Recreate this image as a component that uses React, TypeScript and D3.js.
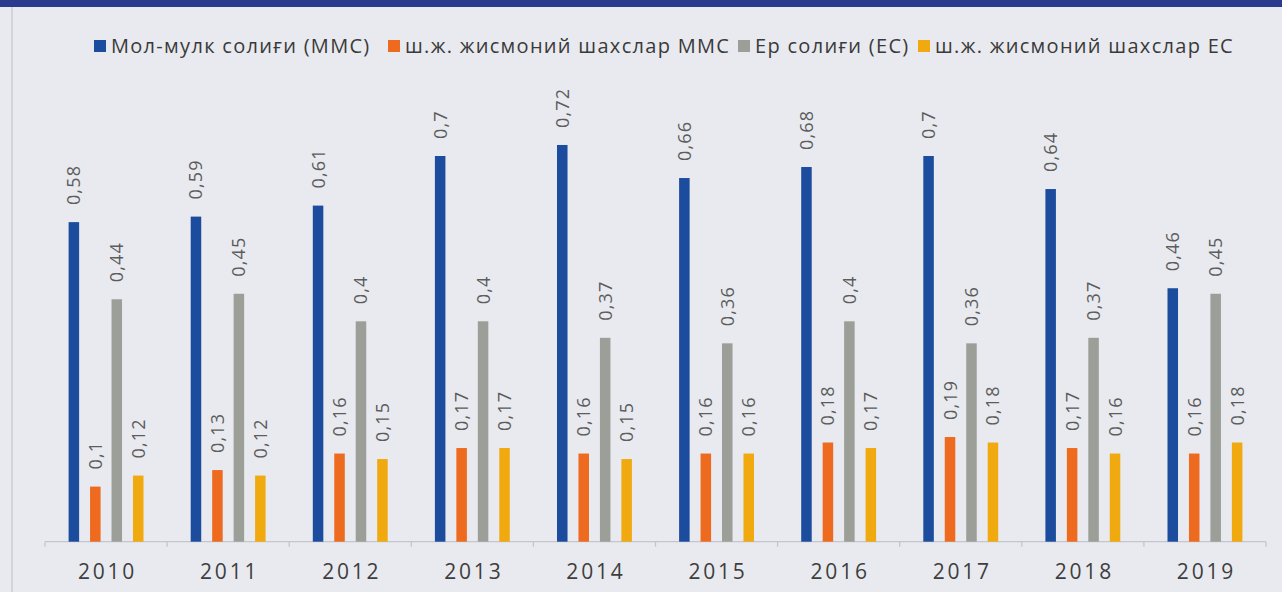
import React, { useEffect, useRef } from 'react';
import * as d3 from 'd3';

const years = ['2010', '2011', '2012', '2013', '2014', '2015', '2016', '2017', '2018', '2019'];
const mmsTotal = [0.58, 0.59, 0.61, 0.7, 0.72, 0.66, 0.68, 0.7, 0.64, 0.46];
const mmsPersons = [0.1, 0.13, 0.16, 0.17, 0.16, 0.16, 0.18, 0.19, 0.17, 0.16];
const esTotal = [0.44, 0.45, 0.4, 0.4, 0.37, 0.36, 0.4, 0.36, 0.37, 0.45];
const esPersons = [0.12, 0.12, 0.15, 0.17, 0.15, 0.16, 0.17, 0.18, 0.16, 0.18];

const seriesNames = [
  'Мол-мулк солиғи (ММС)',
  'ш.ж. жисмоний шахслар ММС',
  'Ер солиғи (ЕС)',
  'ш.ж. жисмоний шахслар ЕС',
];
const seriesColors = ['#1b4c9e', '#ee6a1e', '#9c9e98', '#f0aa10'];
const seriesValues = [mmsTotal, mmsPersons, esTotal, esPersons];

const W = 1282;
const H = 592;
const font = '"Open Sans", "DejaVu Sans", sans-serif';

const App = () => {
  const ref = useRef<SVGSVGElement>(null);

  useEffect(() => {
    const svg = d3.select(ref.current);
    svg.selectAll('*').remove();

    // page background and top banner
    svg.append('rect').attr('width', W).attr('height', H).attr('fill', '#e8eaef');
    svg.append('rect').attr('width', W).attr('height', 7).attr('fill', '#2a3a8c');
    svg.append('line')
      .attr('x1', 12).attr('x2', 12).attr('y1', 7).attr('y2', H)
      .attr('stroke', '#d2d4da').attr('stroke-width', 2);

    const baseY = 541.7;
    const x = d3.scaleBand().domain(years).range([45, 1266]).padding(0);
    const inner = d3.scaleBand()
      .domain(d3.range(4).map(String))
      .range([0, x.bandwidth()])
      .paddingInner(0.51)
      .paddingOuter(1.1);
    const y = d3.scaleLinear().domain([0, 1]).range([baseY, baseY - 551]);

    // axis
    const axis = svg.append('g').attr('transform', `translate(0,${baseY})`);
    axis.append('line')
      .attr('x1', x.range()[0]).attr('x2', x.range()[1])
      .attr('stroke', '#c4c6cb').attr('stroke-width', 1.3);
    const bounds = years.map(yr => x(yr)!).concat([x.range()[1]]);
    axis.selectAll('.tk').data(bounds).join('line')
      .attr('x1', d => d).attr('x2', d => d).attr('y1', 0).attr('y2', 5)
      .attr('stroke', '#c4c6cb').attr('stroke-width', 1.3);
    axis.selectAll('.yl').data(years).join('text')
      .attr('x', d => x(d)! + x.bandwidth() / 2 + 1.5)
      .attr('y', 37)
      .attr('text-anchor', 'middle')
      .style('font-family', font)
      .style('font-size', '21px')
      .style('letter-spacing', '2.8px')
      .attr('fill', '#3e3e3e')
      .text(d => d);

    // bars and labels
    seriesValues.forEach((vals, si) => {
      const g = svg.append('g');
      const data = years.map((yr, i) => ({ yr, v: vals[i] }));
      g.selectAll('rect').data(data).join('rect')
        .attr('x', d => x(d.yr)! + inner(String(si))!)
        .attr('width', inner.bandwidth())
        .attr('y', d => y(d.v))
        .attr('height', d => baseY - y(d.v))
        .attr('fill', seriesColors[si]);
      g.selectAll('text').data(data).join('text')
        .attr('transform', d => {
          const cx = x(d.yr)! + inner(String(si))! + inner.bandwidth() / 2;
          return `translate(${cx},${y(d.v) - 17}) rotate(-90)`;
        })
        .attr('dy', '0.36em')
        .style('font-family', font)
        .style('font-size', '18px')
        .style('letter-spacing', '1.2px')
        .attr('fill', '#5c5c5c')
        .text(d => String(d.v).replace('.', ','));
    });

    // legend
    const legendX = [94, 388, 738, 918];
    const lg = svg.append('g');
    seriesNames.forEach((name, i) => {
      lg.append('rect')
        .attr('x', legendX[i]).attr('y', 40).attr('width', 12).attr('height', 12)
        .attr('fill', seriesColors[i]);
      lg.append('text')
        .attr('x', legendX[i] + 17).attr('y', 53)
        .style('font-family', font)
        .style('font-size', '20px')
        .style('letter-spacing', '1.3px')
        .attr('fill', '#3a3a3a')
        .text(name);
    });
  }, []);

  return (
    <svg
      ref={ref}
      width={W}
      height={H}
      style={{ position: 'absolute', left: 0, top: 0, display: 'block' }}
    />
  );
};

export default App;
